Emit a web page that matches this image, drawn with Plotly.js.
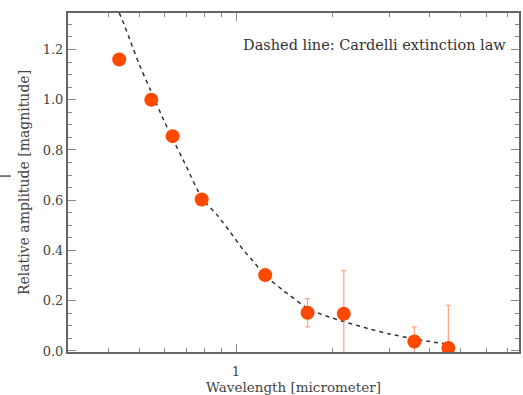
<!DOCTYPE html>
<html>
<head>
<meta charset="utf-8">
<script src="https://cdn.plot.ly/plotly-3.0.1.min.js"></script>
<style>html,body{margin:0;padding:0;background:#fff;}#chart{width:523px;height:395px;}</style>
</head>
<body>
<div id="chart"></div>
<script>
// Measured points
const wavelength = [0.433, 0.545, 0.635, 0.782, 1.233, 1.67, 2.165, 3.59, 4.58];
const amplitude  = [1.16, 1.0, 0.855, 0.603, 0.302, 0.152, 0.148, 0.038, 0.012];
const amplitudeErr = [0, 0, 0, 0, 0, 0.056, 0.172, 0.058, 0.17];

// Cardelli extinction law curve
const lawWavelength = [0.433, 0.442, 0.47, 0.50, 0.541, 0.60, 0.635, 0.70, 0.782, 0.88, 0.96, 1.05, 1.15, 1.233, 1.4, 1.67, 1.9, 2.165, 2.6, 3.0, 3.59, 4.0, 4.58];
const lawAmplitude  = [1.345, 1.32, 1.23, 1.14, 1.04, 0.91, 0.845, 0.735, 0.61, 0.536, 0.473, 0.405, 0.346, 0.30, 0.242, 0.17, 0.14, 0.117, 0.088, 0.068, 0.048, 0.038, 0.027];

const xTickVals = [1];
const xTickText = ['1'];
const xMinorVals = [0.3,0.4,0.5,0.6,0.7,0.8,0.9,2,3,4,5,6,7];
const yTickVals = [0, 0.2, 0.4, 0.6, 0.8, 1.0, 1.2];
const yTickText = ['0.0','0.2','0.4','0.6','0.8','1.0','1.2'];

const serif = 'DejaVu Serif, Liberation Serif, serif';

const traces = [
  {
    x: lawWavelength, y: lawAmplitude, type: 'scatter', mode: 'lines',
    line: {color: '#333', width: 1.5, dash: '4px,4px', shape: 'spline', smoothing: 0.6},
    hoverinfo: 'skip', showlegend: false
  },
  {
    x: wavelength, y: amplitude, type: 'scatter', mode: 'markers',
    marker: {color: '#ff4800', size: 14},
    error_y: {type: 'data', array: amplitudeErr, visible: true, color: 'rgba(255,120,70,0.7)', thickness: 1.2, width: 2.5},
    showlegend: false
  }
];

const layout = {
  width: 523, height: 395,
  margin: {l: 68, r: 4, t: 13, b: 43},
  paper_bgcolor: '#fff', plot_bgcolor: '#fff',
  font: {family: serif, color: '#444', size: 12},
  xaxis: {
    type: 'log', range: [Math.log10(0.3), Math.log10(7.6)],
    tickmode: 'array', tickvals: xTickVals, ticktext: xTickText,
    ticks: 'inside', ticklen: 8, tickcolor: '#888', tickwidth: 1,
    minor: {tickmode: 'array', tickvals: xMinorVals, ticks: 'inside', ticklen: 4, tickcolor: '#888', showgrid: false},
    showgrid: false, zeroline: false,
    showline: true, linecolor: '#666', linewidth: 2, mirror: 'ticks',
    tickfont: {family: serif, size: 13, color: '#444'},
    ticklabelstandoff: 6,
    title: {text: 'Wavelength [micrometer]', font: {family: serif, size: 13.5, color: '#444'}, standoff: 4}
  },
  yaxis: {
    range: [-0.004, 1.345],
    tickmode: 'array', tickvals: yTickVals, ticktext: yTickText,
    ticks: 'inside', ticklen: 8, tickcolor: '#888', tickwidth: 1,
    minor: {dtick: 0.05, ticks: 'inside', ticklen: 4, tickcolor: '#888', showgrid: false},
    showgrid: false, zeroline: false,
    showline: true, linecolor: '#666', linewidth: 2, mirror: 'ticks',
    tickfont: {family: serif, size: 13, color: '#444'},
    title: {text: 'Relative amplitude [magnitude]', font: {family: serif, size: 14, color: '#444'}, standoff: 10}
  },
  annotations: [
    {xref: 'paper', yref: 'paper', x: 0.975, y: 0.905, xanchor: 'right', yanchor: 'middle',
     text: 'Dashed line: Cardelli extinction law', showarrow: false,
     font: {family: serif, size: 14.5, color: '#333'}}
  ],
  shapes: [
    {type: 'line', xref: 'paper', yref: 'paper',
     xsizemode: 'pixel', xanchor: 0, x0: -68, x1: -57,
     ysizemode: 'pixel', yanchor: 0.519, y0: 0, y1: 0,
     line: {color: '#555', width: 1.5}}
  ]
};

Plotly.newPlot('chart', traces, layout, {displayModeBar: false, staticPlot: true});
</script>
</body>
</html>
